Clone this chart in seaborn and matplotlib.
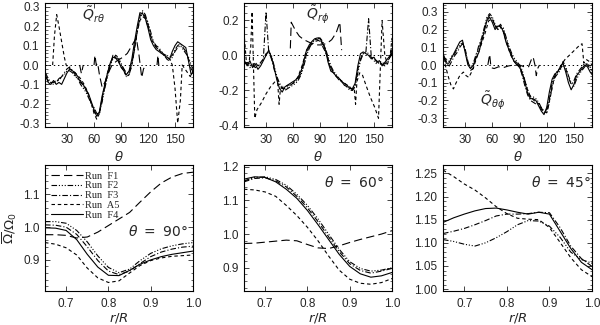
import numpy as np
import pandas as pd
import matplotlib
matplotlib.use("Agg")
import matplotlib.pyplot as plt
import seaborn as sns
from matplotlib.ticker import MultipleLocator, FormatStrFormatter, AutoMinorLocator

# ---------------- data ----------------
RUNS = ["F1", "F2", "F3", "A5", "F4"]
LEGEND_LABELS = ["Run  F1", "Run  F2", "Run  F3", "Run  A5", "Run  F4"]

# common theta grid for the F2, F3, F4 curves (top row)
TH = [6, 9, 12, 15, 18, 21, 24, 27, 30, 33, 36, 39, 42, 45, 48, 51, 54, 57, 60, 63,
      66, 69, 72, 75, 78, 81, 84, 87, 90, 93, 96, 99, 102, 105, 108, 111, 114, 117, 120, 123,
      126, 129, 132, 135, 138, 141, 144, 147, 150, 153, 156, 159, 162, 165, 168, 171]

# ---- Q_r theta ----
QRT_F4 = [-0.05, -0.09, -0.10, -0.08, -0.10, -0.09, -0.10, -0.07, -0.04, -0.02, -0.03, -0.04, -0.06, -0.09, -0.10, -0.13, -0.15, -0.19, -0.23, -0.265,
          -0.24, -0.16, -0.10, -0.04, 0.01, 0.04, 0.035, 0.02, -0.01, -0.03, -0.05, -0.03, 0.03, 0.12, 0.20, 0.27, 0.265, 0.24, 0.19, 0.13,
          0.10, 0.08, 0.07, 0.06, 0.05, 0.04, 0.03, 0.07, 0.10, 0.12, 0.11, 0.10, 0.09, 0.02, -0.05, -0.03]
QRT_F3 = [-0.04, -0.07, -0.09, -0.09, -0.08, -0.08, -0.06, -0.04, -0.02, -0.01, -0.03, -0.05, -0.07, -0.08, -0.11, -0.12, -0.16, -0.20, -0.24, -0.26,
          -0.25, -0.18, -0.11, -0.05, 0.00, 0.05, 0.05, 0.03, 0.00, -0.02, -0.04, -0.04, 0.01, 0.09, 0.17, 0.25, 0.28, 0.26, 0.21, 0.15,
          0.12, 0.10, 0.09, 0.07, 0.05, 0.05, 0.04, 0.05, 0.08, 0.10, 0.11, 0.09, 0.07, 0.03, -0.02, -0.04]
QRT_F2 = [-0.06, -0.08, -0.09, -0.10, -0.09, -0.07, -0.06, -0.05, -0.03, -0.03, -0.04, -0.06, -0.07, -0.10, -0.12, -0.14, -0.17, -0.20, -0.22, -0.25,
          -0.25, -0.19, -0.12, -0.06, 0.00, 0.03, 0.05, 0.04, 0.01, -0.02, -0.06, -0.05, 0.00, 0.08, 0.18, 0.24, 0.27, 0.25, 0.22, 0.17,
          0.12, 0.09, 0.08, 0.06, 0.05, 0.03, 0.02, 0.04, 0.07, 0.09, 0.10, 0.08, 0.06, 0.04, 0.00, -0.03]
QRT_A5_TH = [14, 16, 18.5, 21, 24, 27, 29, 33, 37, 41, 45, 49, 53, 57, 60, 63, 66, 69, 72, 75, 78, 81, 84, 87, 90, 93, 96, 99,
             102, 105, 108, 111, 114, 117, 120, 124, 128, 132, 136, 140, 144, 147, 150, 153, 156, 158, 161, 164, 167, 170]
QRT_A5 = [0.0, 0.15, 0.26, 0.20, 0.12, 0.04, 0.0, -0.02, -0.03, -0.05, -0.07, -0.10, -0.14, -0.20, -0.25, -0.28, -0.25, -0.17, -0.10, -0.04,
          0.01, 0.04, 0.04, 0.02, -0.01, -0.03, -0.06, -0.05, 0.0, 0.08, 0.17, 0.23, 0.25, 0.24, 0.20, 0.13, 0.10, 0.08, 0.06, 0.05,
          0.03, 0.0, -0.12, -0.30, -0.18, 0.0, -0.02, -0.04, -0.06, -0.03]
QRT_F1_TH = [44, 46, 48, np.nan, 60, 61, 62.5, 64, 66, 69, 72, 76, 80, 85, 92, 97, 102, 107, 110, 113, 115, 118, np.nan, 130, 131, 132]
QRT_F1 = [0.0, -0.045, 0.0, np.nan, 0.0, 0.05, 0.0, 0.01, -0.05, -0.115, -0.09, -0.04, 0.0, 0.02, 0.04, 0.06, 0.10, 0.14, 0.05, -0.065, -0.02, 0.0, np.nan, 0.0, 0.05, 0.0]

# ---- Q_r phi ----
QRP_F4 = [-0.03, -0.06, -0.03, -0.07, -0.05, -0.08, -0.06, -0.03, 0.00, 0.03, -0.01, -0.07, -0.14, -0.19, -0.21, -0.18, -0.17, -0.16, -0.15, -0.14,
          -0.12, -0.09, -0.03, 0.03, 0.06, 0.08, 0.095, 0.10, 0.095, 0.07, 0.03, -0.04, -0.09, -0.10, -0.12, -0.13, -0.15, -0.16, -0.17, -0.19,
          -0.19, -0.16, -0.06, 0.01, 0.02, 0.01, 0.00, -0.02, -0.01, -0.04, -0.03, -0.06, -0.04, -0.02, 0.00, 0.05]
QRP_F3 = [-0.05, -0.04, -0.06, -0.05, -0.07, -0.06, -0.04, -0.02, 0.25, 0.02, -0.02, -0.08, -0.13, -0.17, -0.19, -0.19, -0.18, -0.17, -0.16, -0.15,
          -0.13, -0.10, -0.05, 0.01, 0.05, 0.07, 0.09, 0.09, 0.08, 0.05, 0.02, -0.02, -0.07, -0.10, -0.12, -0.14, -0.15, -0.17, -0.18, -0.18,
          -0.20, -0.17, -0.08, -0.02, 0.01, 0.02, 0.21, -0.01, -0.02, -0.03, -0.05, -0.04, -0.05, -0.03, -0.01, 0.02]
QRP_F2 = [-0.04, -0.05, -0.07, -0.06, -0.04, -0.06, -0.05, -0.02, 0.01, 0.02, 0.00, -0.06, -0.12, -0.16, -0.18, -0.20, -0.19, -0.18, -0.17, -0.16,
          -0.14, -0.11, -0.06, 0.00, 0.04, 0.07, 0.09, 0.10, 0.10, 0.08, 0.04, -0.01, -0.06, -0.09, -0.11, -0.13, -0.15, -0.17, -0.18, -0.20,
          -0.20, -0.18, -0.10, -0.03, 0.01, 0.02, 0.01, -0.01, -0.03, -0.05, -0.04, -0.05, -0.06, -0.04, -0.01, 0.03]
QRP_A5_TH = [6, 8, 11, 13, 14.5, 17.5, 20, 25, 30, 35, 40, 43, 44.5, 46, 50, 55, 60, 65, 70, 75, 80, 85, 90, 95, 100,
             105, 110, 115, 120, 125, 128, 129.5, 131, 134, 137, 141, 146, 151, 155, 159, 162, 165, 168, 170]
QRP_A5 = [0.10, -0.03, -0.05, 0.05, 0.25, -0.36, -0.31, -0.27, -0.22, -0.18, -0.15, -0.16, -0.28, -0.19, -0.18, -0.17, -0.16, -0.13, -0.06, 0.03,
          0.06, 0.08, 0.09, 0.05, -0.05, -0.10, -0.13, -0.15, -0.17, -0.19, -0.19, -0.28, -0.15, -0.10, -0.11, -0.17, -0.24, -0.30, -0.36, 0.20,
          0.0, -0.05, 0.0, 0.10]
QRP_F1_TH = [57, 58, 60, 63, 67, 72, 78, 85, 92, 98, 103, 108, 112, 114]
QRP_F1 = [0.04, 0.19, 0.17, 0.14, 0.11, 0.09, 0.075, 0.06, 0.06, 0.07, 0.09, 0.13, 0.19, 0.03]

# ---- Q_theta phi ----
QTP_F4 = [0.06, 0.01, 0.01, 0.04, 0.07, 0.10, 0.13, 0.14, 0.07, 0.00, -0.02, 0.00, 0.04, 0.07, 0.13, 0.19, 0.25, 0.27, 0.24, 0.20,
          0.22, 0.22, 0.19, 0.13, 0.09, 0.05, 0.02, 0.00, -0.01, -0.05, -0.10, -0.16, -0.19, -0.19, -0.20, -0.23, -0.26, -0.28, -0.24, -0.15,
          -0.08, -0.05, -0.04, -0.01, 0.01, -0.04, -0.10, -0.14, -0.11, -0.06, -0.04, -0.02, 0.00, -0.01, -0.04, -0.06]
QTP_F3 = [0.04, 0.02, -0.01, 0.02, 0.05, 0.07, 0.10, 0.12, 0.09, 0.02, -0.03, -0.02, 0.05, 0.11, 0.15, 0.20, 0.26, 0.28, 0.26, 0.22,
          0.21, 0.23, 0.20, 0.15, 0.10, 0.06, 0.03, 0.01, -0.01, -0.06, -0.12, -0.17, -0.20, -0.21, -0.22, -0.22, -0.25, -0.27, -0.25, -0.19,
          -0.10, -0.06, -0.03, -0.02, 0.00, -0.02, -0.07, -0.11, -0.09, -0.05, -0.03, -0.01, 0.01, 0.00, -0.02, -0.05]
QTP_F2 = [0.05, 0.03, 0.02, 0.05, 0.06, 0.09, 0.11, 0.13, 0.08, 0.01, -0.01, 0.01, 0.06, 0.09, 0.14, 0.21, 0.27, 0.29, 0.27, 0.23,
          0.20, 0.21, 0.21, 0.16, 0.11, 0.07, 0.04, 0.02, 0.00, -0.03, -0.09, -0.14, -0.18, -0.18, -0.19, -0.21, -0.24, -0.26, -0.27, -0.21,
          -0.12, -0.07, -0.05, -0.03, 0.02, -0.01, -0.06, -0.10, -0.12, -0.08, -0.05, -0.03, -0.01, 0.01, -0.01, -0.04]
QTP_A5_TH = [6, 8, 11, 14, 17, 20, 24, 28, 31, 34, 37, 40, 44, 48, 52, 56, 60, 64, 68, 72, 76, 80, 84, 88, 92, 96, 100,
             104, 108, 112, 116, 120, 124, 128, 132, 136, 140, 144, 148, 152, 156, 159, 161, 164, 167, 170]
QTP_A5 = [0.04, 0.0, -0.06, -0.11, -0.135, -0.10, -0.06, -0.04, -0.06, -0.07, -0.04, 0.0, 0.06, 0.12, 0.18, 0.25, 0.26, 0.21, 0.22, 0.19,
          0.12, 0.06, 0.02, 0.0, -0.03, -0.09, -0.16, -0.19, -0.21, -0.22, -0.26, -0.27, -0.18, -0.08, -0.04, 0.0, 0.03, 0.05, 0.07, 0.09,
          0.11, 0.12, 0.01, 0.03, 0.02, 0.0]
QTP_F1_TH = [55, 57, 58.5, 62, 67, 72, 78, 84, 90, 95, 100, 103, 105, 107, 108.5, 110, 112]
QTP_F1 = [0.0, 0.06, -0.015, -0.02, -0.01, -0.015, -0.005, 0.0, 0.0, -0.01, -0.01, 0.03, 0.045, 0.0, -0.06, -0.02, 0.0]

# ---- Omega profiles (bottom row) ----
R = [0.65, 0.675, 0.70, 0.725, 0.75, 0.775, 0.80, 0.825, 0.85, 0.875, 0.90, 0.925, 0.95, 0.975, 1.0]
OM90_F1 = [0.977, 0.977, 0.975, 0.967, 0.970, 0.985, 1.005, 1.025, 1.045, 1.077, 1.108, 1.135, 1.153, 1.164, 1.168]
OM90_F2 = [1.017, 1.017, 1.012, 0.990, 0.955, 0.912, 0.877, 0.861, 0.872, 0.898, 0.920, 0.934, 0.943, 0.949, 0.953]
OM90_F3 = [1.007, 1.006, 1.000, 0.978, 0.940, 0.898, 0.866, 0.855, 0.866, 0.889, 0.910, 0.924, 0.933, 0.939, 0.942]
OM90_A5 = [0.953, 0.948, 0.937, 0.915, 0.875, 0.845, 0.831, 0.836, 0.860, 0.883, 0.898, 0.906, 0.911, 0.913, 0.915]
OM90_F4 = [0.998, 0.997, 0.990, 0.962, 0.917, 0.878, 0.853, 0.852, 0.868, 0.887, 0.900, 0.910, 0.917, 0.922, 0.927]

OM60_F1 = [0.972, 0.973, 0.976, 0.979, 0.982, 0.980, 0.969, 0.959, 0.957, 0.965, 0.975, 0.984, 0.992, 1.000, 1.010]
OM60_F2 = [1.158, 1.168, 1.170, 1.162, 1.145, 1.118, 1.085, 1.045, 1.000, 0.955, 0.918, 0.898, 0.890, 0.893, 0.900]
OM60_F3 = [1.155, 1.165, 1.167, 1.158, 1.140, 1.112, 1.078, 1.037, 0.992, 0.948, 0.912, 0.892, 0.884, 0.890, 0.898]
OM60_A5 = [1.133, 1.131, 1.125, 1.112, 1.085, 1.055, 1.020, 0.980, 0.935, 0.893, 0.866, 0.854, 0.851, 0.856, 0.868]
OM60_F4 = [1.163, 1.170, 1.168, 1.155, 1.133, 1.106, 1.070, 1.028, 0.984, 0.940, 0.904, 0.882, 0.872, 0.876, 0.886]

OM45_F2 = [1.107, 1.103, 1.097, 1.093, 1.100, 1.111, 1.124, 1.139, 1.148, 1.147, 1.136, 1.112, 1.080, 1.064, 1.056]
OM45_F3 = [1.120, 1.125, 1.131, 1.139, 1.148, 1.158, 1.162, 1.162, 1.163, 1.166, 1.165, 1.133, 1.093, 1.066, 1.049]
OM45_A5 = [1.257, 1.243, 1.227, 1.214, 1.197, 1.178, 1.163, 1.153, 1.151, 1.150, 1.133, 1.101, 1.068, 1.042, 1.027]
OM45_F4 = [1.144, 1.154, 1.162, 1.169, 1.174, 1.175, 1.171, 1.166, 1.162, 1.166, 1.162, 1.125, 1.088, 1.058, 1.042]

# ---------------- style ----------------
sns.set_style("ticks")
plt.rcParams.update({
    "font.family": ["Liberation Sans", "DejaVu Sans"],
    "font.size": 8,
    "lines.scale_dashes": False,
    "xtick.direction": "in", "ytick.direction": "in",
    "xtick.top": True, "ytick.right": True,
    "xtick.major.size": 3.5, "ytick.major.size": 3.5,
    "xtick.minor.size": 1.8, "ytick.minor.size": 1.8,
    "xtick.major.width": 0.6, "ytick.major.width": 0.6,
    "xtick.minor.width": 0.5, "ytick.minor.width": 0.5,
    "axes.linewidth": 0.8,
    "axes.edgecolor": "black",
    "xtick.labelsize": 8.5, "ytick.labelsize": 8.5,
    "mathtext.fontset": "dejavusans",
})

STYLE = {
    "F1": (0, (6, 3)),
    "F2": (0, (4, 1.3, 0.8, 1.3, 0.8, 1.3, 0.8, 1.3)),
    "F3": (0, (4, 1.5, 0.8, 1.5)),
    "A5": (0, (2.5, 2)),
    "F4": "-",
}
LW = 0.8


def draw(ax, x, y, run, label=None):
    df = pd.DataFrame({"x": np.asarray(x, float), "y": np.asarray(y, float)})
    df["seg"] = df["y"].isna().cumsum()
    df = df.dropna()
    sns.lineplot(data=df, x="x", y="y", units="seg", estimator=None, sort=False,
                 color="black", linewidth=LW, linestyle=STYLE[run], ax=ax,
                 label=label, legend=False)


fig = plt.figure(figsize=(6, 3.25), dpi=100)


def rect(x0, x1, y0, y1):
    return [x0 / 600, 1 - y1 / 325, (x1 - x0) / 600, (y1 - y0) / 325]


cols = [(45, 193), (244, 392), (443, 592)]
top_axes = [fig.add_axes(rect(c[0], c[1], 3, 127)) for c in cols]
bot_axes = [fig.add_axes(rect(c[0], c[1], 165, 291)) for c in cols]

# ---------------- top row ----------------
top_sets = [
    (QRT_F1_TH, QRT_F1, QRT_F2, QRT_F3, QRT_A5_TH, QRT_A5, QRT_F4, (-0.32, 0.32), 0.1,
     r"$\tilde{Q}_{r\theta}$", (0.33, 0.90)),
    (QRP_F1_TH, QRP_F1, QRP_F2, QRP_F3, QRP_A5_TH, QRP_A5, QRP_F4, (-0.41, 0.30), 0.2,
     r"$\tilde{Q}_{r\phi}$", (0.50, 0.91)),
    (QTP_F1_TH, QTP_F1, QTP_F2, QTP_F3, QTP_A5_TH, QTP_A5, QTP_F4, (-0.35, 0.35), 0.1,
     r"$\tilde{Q}_{\theta\phi}$", (0.33, 0.22)),
]
for ax, (f1t, f1, f2, f3, a5t, a5, f4, ylim, ystep, title, tpos) in zip(top_axes, top_sets):
    ax.axhline(0, color="black", lw=0.7, linestyle=(0, (1, 2)))
    draw(ax, f1t, f1, "F1")
    draw(ax, TH, f2, "F2")
    draw(ax, TH, f3, "F3")
    draw(ax, a5t, a5, "A5")
    draw(ax, TH, f4, "F4")
    ax.set_xlim(5.5, 170)
    ax.set_ylim(*ylim)
    ax.xaxis.set_major_locator(MultipleLocator(30))
    ax.yaxis.set_major_locator(MultipleLocator(ystep))
    ax.yaxis.set_minor_locator(AutoMinorLocator(5))
    ax.yaxis.set_major_formatter(FormatStrFormatter("%.1f"))
    ax.set_xlabel(r"$\theta$", fontsize=9.5, labelpad=3)
    ax.set_ylabel("")
    ax.text(tpos[0], tpos[1], title, transform=ax.transAxes, ha="center", va="center", fontsize=10)
    ax.tick_params(axis="x", pad=5)
    ax.tick_params(axis="y", pad=4)

# ---------------- bottom row ----------------
bot_sets = [
    ([OM90_F1, OM90_F2, OM90_F3, OM90_A5, OM90_F4], (0.805, 1.19), 0.1, "%.1f", r"$\theta\ =\ 90°$", (0.76, 0.47)),
    ([OM60_F1, OM60_F2, OM60_F3, OM60_A5, OM60_F4], (0.831, 1.205), 0.1, "%.1f", r"$\theta\ =\ 60°$", (0.74, 0.86)),
    ([None, OM45_F2, OM45_F3, OM45_A5, OM45_F4], (0.996, 1.268), 0.05, "%.2f", r"$\theta\ =\ 45°$", (0.79, 0.86)),
]
for i, (ax, (series, ylim, ystep, fmt, title, tpos)) in enumerate(zip(bot_axes, bot_sets)):
    for run, lab, vals in zip(RUNS, LEGEND_LABELS, series):
        if vals is None:
            continue
        draw(ax, R, vals, run, label=lab if i == 0 else None)
    ax.set_xlim(0.65, 1.0)
    ax.set_ylim(*ylim)
    ax.xaxis.set_major_locator(MultipleLocator(0.1))
    ax.xaxis.set_major_formatter(FormatStrFormatter("%.1f"))
    ax.yaxis.set_major_locator(MultipleLocator(ystep))
    ax.yaxis.set_minor_locator(AutoMinorLocator(5))
    ax.yaxis.set_major_formatter(FormatStrFormatter(fmt))
    ax.set_xlabel(r"$r/R$", fontsize=9.5, labelpad=1)
    ax.set_ylabel("")
    ax.text(tpos[0], tpos[1], title, transform=ax.transAxes, ha="center", va="center", fontsize=10)
    ax.tick_params(axis="x", pad=5)
    ax.tick_params(axis="y", pad=4)

bot_axes[0].set_ylabel(r"$\overline{\Omega}/\Omega_0$", fontsize=9.5, labelpad=3)
leg = bot_axes[0].legend(loc="upper left", frameon=False, handlelength=3.0, handletextpad=0.2,
                         labelspacing=0.05, borderaxespad=0.2,
                         prop={"family": "Liberation Serif", "size": 7.5})

fig.savefig("out.png", dpi=100)
